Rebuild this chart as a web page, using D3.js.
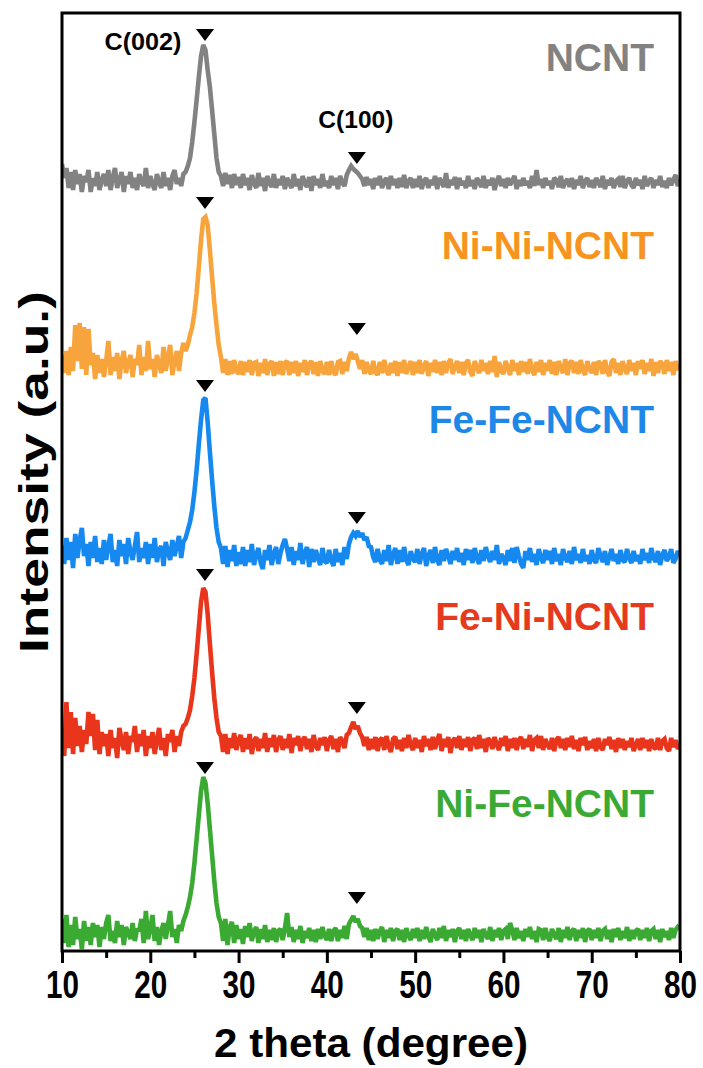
<!DOCTYPE html>
<html>
<head>
<meta charset="utf-8">
<script src="https://cdn.jsdelivr.net/npm/d3@7"></script>
<style>
  body { margin: 0; background: #fff; }
  svg { display: block; }
  text { font-family: "Liberation Sans", Arial, "Helvetica Neue", sans-serif; font-weight: bold; }
</style>
</head>
<body>
<svg id="chart" width="703" height="1068"></svg>
<script>
// 2-theta sampling grid (degrees)
const thetaStart = 10;
const thetaStep = 0.25;

// Intensity (a.u.) per sample, one value per grid step from 10 to 80 degrees
const ncnt = [
  18,4,14,-6,10,-8,12,-2,8,-10,6,0,12,-10,4,-4,10,-8,2,8,
  -4,12,-8,4,14,-6,2,10,-10,6,-2,10,-6,4,-8,8,0,-4,14,-6,
  6,-2,-8,8,0,-6,10,-4,4,-8,6,12,-2,4,-4,8,
  10,16,24,40,
  60,82,105,126,137,132,112,95,72,48,24,10,
  6,-4,9,-2,7,-6,8,-3,
  5,-6,8,-3,4,-8,7,-1,-6,9,-4,4,-9,6,-1,-5,8,-6,3,-3,
  6,-7,4,-1,-6,8,-4,3,-8,6,-1,-5,5,-9,6,-3,3,-6,8,-4,
  1,-6,6,-3,4,-7,6,-1,-4,7,12,16,13,11,9,6,3,-4,5,-3,
  3,-7,4,-3,6,-6,1,4,-7,6,-3,3,-6,4,-5,7,-6,1,4,-6,
  3,-5,6,-7,1,4,-6,2,-3,6,-7,4,0,-5,9,-6,2,-3,5,-7,
  4,-3,1,-6,6,-4,2,-7,4,0,-5,6,-6,2,-3,4,-8,1,6,-4,
  3,-6,4,-3,1,6,-7,2,-4,4,-3,1,-6,6,-4,12,-3,3,-6,4,
  -3,1,-7,4,2,-5,6,-6,0,3,-5,4,-7,2,-3,6,-6,1,4,-5,
  2,-6,4,0,-5,6,-7,2,-3,4,-6,1,3,-5,6,-6,1,4,-3,-6,
  4,-3,2,-7,6,-4,1,4,-6,2,-3,6,-5,1,-6,4,-3,2,7,-4,
  2
];

const niNi = [
  10,-8,14,-10,18,-6,40,4,42,-4,38,-10,36,0,12,-14,10,-8,6,-12,
  4,24,-10,8,-6,12,-14,4,14,-8,2,10,-12,6,0,20,-10,8,-6,24,
  -4,6,-12,10,0,-8,18,-6,8,20,-10,4,14,-6,12,22,
  14,20,30,38,
  52,72,98,125,146,148,140,115,88,62,40,20,
  8,-8,6,-10,4,-9,5,-6,
  -9,4,-10,3,-7,5,-10,2,3,-11,2,-8,6,-10,1,4,-11,3,-9,4,
  -10,2,4,-10,3,-8,4,-11,2,-7,5,-10,1,4,-9,3,-11,4,-6,-9,
  3,-10,4,-7,-10,3,4,-9,3,-6,7,13,6,11,4,-4,5,-9,3,-6,
  -9,4,-7,-10,3,-8,5,-6,-10,2,-8,4,-11,3,-8,5,-9,-2,4,-10,
  3,-8,5,-9,-1,4,-11,2,-7,5,-8,3,-10,4,-8,2,6,-9,-2,4,
  -8,3,-10,2,5,-7,-11,4,-3,-8,5,-6,2,-9,4,-7,9,-12,3,-6,
  -9,4,-3,-10,5,-6,2,-10,4,-7,3,-9,6,-5,-10,3,-7,5,-10,2,
  -6,5,-9,3,-10,4,-3,-8,6,-10,2,4,-8,3,-9,5,-5,-10,4,-4,
  -8,3,-10,4,1,-9,5,-6,-11,3,6,-8,2,-10,4,-4,-9,5,-6,2,
  -10,4,-4,5,-9,2,-6,6,-11,3,-8,4,1,-9,5,-6,3,-10,4,-5,
  1
];

const feFe = [
  6,-12,14,-8,10,-16,18,-6,12,24,-4,8,-14,10,-6,16,-10,4,-12,12,
  -8,6,18,-10,2,-14,12,-4,8,-12,14,0,-8,6,20,-10,4,-6,10,-12,
  8,-6,14,-10,2,6,-14,10,0,-8,12,-4,6,16,-6,10,
  14,22,30,42,
  60,82,108,132,152,154,130,100,72,46,24,10,
  4,-12,6,-15,2,-9,7,-14,
  0,-12,5,-14,2,-10,8,-13,-3,4,-11,-17,2,-8,7,-13,-2,5,-12,-1,
  7,13,3,-9,5,-13,1,-8,9,-12,-1,5,-15,3,-10,2,-6,-13,4,-9,
  -11,2,-8,-14,3,-10,-1,-13,5,-7,8,15,19,16,21,15,19,12,15,6,
  5,-5,-10,3,-8,-12,2,-9,7,-13,-3,4,-12,2,-10,5,-8,-13,1,-7,
  -10,3,-12,-2,4,-14,-4,2,-11,5,-8,-13,2,-9,3,-4,-12,1,-8,4,
  -10,-1,-13,3,-8,2,-11,4,-6,-12,2,-9,5,-4,-10,1,-8,7,-12,-2,
  -6,-13,2,-9,4,-11,5,-4,-12,-16,1,-8,4,-10,-2,-13,3,-6,-11,2,
  -8,1,-12,4,-9,-2,-13,3,-6,-10,1,-12,5,-8,-2,-11,3,-9,-3,-12,
  2,-8,-11,4,-4,-10,1,-13,-5,3,-9,-2,-12,2,-8,-10,3,-6,-11,1,
  -9,-3,-12,3,-8,-1,-11,4,-6,-10,1,-13,-3,2,-9,-5,3,-11,-7,1,
  -3
];

const feNi = [
  4,-14,40,-6,30,-12,24,-4,16,-10,12,-2,30,6,28,-8,22,-12,10,-4,
  8,-14,12,-6,4,-16,14,2,-8,10,-12,6,0,16,-10,8,-4,12,-14,6,
  -6,10,-12,2,14,-8,4,-14,8,0,12,-10,6,-4,10,16,
  18,24,32,46,
  64,88,114,140,154,150,128,98,70,44,24,10,
  6,-10,8,-12,4,-6,9,-8,
  2,7,-10,4,-7,8,-12,1,5,-9,3,-6,9,-10,4,-5,7,-10,2,6,
  -8,3,-6,8,-11,4,-3,6,-9,2,5,-7,3,-10,7,-4,-8,4,-3,5,
  -9,2,6,-7,3,-10,5,1,-6,7,9,15,20,13,16,9,5,-4,5,-8,
  3,-7,5,-9,2,4,-8,6,-4,-10,3,5,-7,2,-9,4,-6,7,-3,-8,
  4,-6,2,-10,6,-4,3,-8,5,-7,2,8,-9,3,-5,5,-11,1,4,-6,
  6,-8,3,-5,5,-9,2,4,-7,7,-6,3,-10,4,1,-7,5,-3,-8,4,
  -4,6,-9,3,-6,4,-8,2,5,-7,3,-5,7,-9,2,4,-6,6,-8,3,
  -3,-7,4,-9,2,5,-6,3,-8,4,-5,6,-7,2,-9,4,-3,5,-8,1,
  -6,3,-9,4,-5,-8,3,-3,5,-7,2,-10,4,-6,3,-8,1,-5,4,-9,
  -3,3,-8,4,-6,2,-9,3,-5,-7,4,-8,1,3,-6,-9,4,-5,2,-7,
  -2
];

const niFe = [
  14,-10,18,-14,8,-12,16,-6,4,-16,12,-8,6,-12,10,-4,8,-14,6,-6,
  10,18,-8,2,-10,12,-4,8,-12,6,0,-6,10,-8,4,2,14,-10,22,-6,
  4,18,-8,6,-12,2,10,-6,8,22,-4,4,-10,8,2,12,
  18,26,36,50,
  70,94,118,142,156,150,130,104,78,52,30,16,
  10,-8,14,-12,6,11,-10,8,
  -6,4,-11,7,-4,10,-8,2,6,-10,4,-6,8,-9,3,-7,5,-9,2,4,
  -7,5,20,-4,6,-9,3,-6,7,-10,2,-5,5,-8,3,-9,4,-6,6,-3,
  -7,4,-8,2,5,-8,3,-5,7,-6,9,13,17,11,14,7,5,-4,5,-7,
  3,-8,4,-6,2,6,-9,3,-5,5,-8,2,4,-7,3,-9,5,-3,-7,4,
  -5,5,-8,3,-6,6,-3,-9,4,-2,-7,5,-5,7,-8,3,-4,4,-9,2,
  5,-6,3,-8,4,-2,-7,5,-5,3,-9,4,-2,-6,6,-8,3,-4,5,-7,
  2,4,-6,10,3,-7,5,-5,2,-8,4,-4,6,-6,2,-9,4,3,-7,5,
  -4,-8,4,-2,-6,5,-9,3,-5,6,-7,2,4,-8,3,-5,5,-9,2,4,
  -7,3,-5,5,-8,2,4,-6,3,-9,4,-4,5,-7,2,-5,6,-8,3,-6,
  2,4,-7,3,-5,5,-8,2,4,-6,3,-9,4,-4,2,-7,5,-5,3,6,
  4
];

const sampleNames = ["NCNT", "Ni-Ni-NCNT", "Fe-Fe-NCNT", "Fe-Ni-NCNT", "Ni-Fe-NCNT"];
const sampleValues = [ncnt, niNi, feFe, feNi, niFe];
// vertical stacking offset of each pattern (a.u.)
const stackOffsets = [769, 586, 399, 209, 18];

// carbon reflections marked on every pattern
const reflectionNames = ["C(002)", "C(100)"];
const reflectionPositions = [26.2, 43.4];
// marker height above each pattern's baseline (a.u.), per sample, per reflection
const markerLevels = [[141, 18], [156, 30], [160, 28], [161, 28], [159, 29]];

const xTickValues = [10, 20, 30, 40, 50, 60, 70, 80];
const xMinorTickValues = [15, 25, 35, 45, 55, 65, 75];

// ---- styling ----
const lineColors = ["#828282", "#F8A43C", "#1589F0", "#E8351B", "#3AAA33"];
const labelColors = ["#828282", "#F7941F", "#1E88E8", "#E63A1E", "#3BAA34"];

const W = 703, H = 1068;
const margin = { left: 62, right: 23, top: 13, bottom: 117 };
const plotW = W - margin.left - margin.right;
const plotH = H - margin.top - margin.bottom;

const svg = d3.select("#chart");

const x = d3.scaleLinear().domain([10, 80]).range([margin.left, margin.left + plotW]);
const y = d3.scaleLinear().domain([0, plotH]).range([margin.top + plotH, margin.top]);

const theta = i => thetaStart + i * thetaStep;

const line = d3.line()
  .x((d, i) => x(theta(i)))
  .curve(d3.curveLinear);

svg.append("clipPath").attr("id", "plot-clip")
  .append("rect")
  .attr("x", margin.left).attr("y", margin.top)
  .attr("width", plotW).attr("height", plotH);

const patterns = svg.append("g").attr("clip-path", "url(#plot-clip)");

sampleValues.forEach((vals, k) => {
  if (vals.length !== 281) throw new Error(sampleNames[k] + " has " + vals.length + " points");
  patterns.append("path")
    .datum(vals)
    .attr("fill", "none")
    .attr("stroke", lineColors[k])
    .attr("stroke-width", 4.6)
    .attr("stroke-linejoin", "miter")
    .attr("stroke-miterlimit", 2)
    .attr("d", line.y(v => y(stackOffsets[k] + v)));
});

// reflection markers (downward triangles)
const tri = "M-9,-12L9,-12L0,0Z";
sampleValues.forEach((vals, k) => {
  reflectionPositions.forEach((pos, j) => {
    svg.append("path")
      .attr("d", tri)
      .attr("fill", "#000")
      .attr("transform", `translate(${x(pos)},${y(stackOffsets[k] + markerLevels[k][j])})`);
  });
});

// reflection names above the top pattern
const reflLabelPos = [{ dx: -62, yv: stackOffsets[0] + 132, w: 77 }, { dx: -1, yv: stackOffsets[0] + 54, w: 75 }];
reflectionNames.forEach((name, j) => {
  svg.append("text")
    .attr("x", x(reflectionPositions[j]) + reflLabelPos[j].dx)
    .attr("y", y(reflLabelPos[j].yv))
    .attr("text-anchor", "middle")
    .attr("font-size", 23)
    .attr("textLength", reflLabelPos[j].w)
    .attr("lengthAdjust", "spacingAndGlyphs")
    .attr("fill", "#000")
    .text(name);
});

// sample labels, right-aligned
const labelBaselines = [71, 259, 433, 630, 817];
sampleNames.forEach((name, k) => {
  svg.append("text")
    .attr("x", 654)
    .attr("y", labelBaselines[k])
    .attr("text-anchor", "end")
    .attr("font-size", 39)
    .attr("fill", labelColors[k])
    .text(name);
});

// x axis
const axisY = margin.top + plotH;
const gx = svg.append("g").attr("transform", `translate(0,${axisY})`)
  .call(d3.axisBottom(x).tickValues(xTickValues).tickSize(12).tickPadding(8).tickFormat(d3.format("d")));
gx.select(".domain").remove();
gx.selectAll(".tick line").attr("stroke", "#000").attr("stroke-width", 3);
gx.selectAll(".tick text")
  .attr("font-size", 38)
  .attr("font-family", "'Liberation Sans', Arial, sans-serif")
  .attr("font-weight", "bold")
  .attr("textLength", 33)
  .attr("lengthAdjust", "spacingAndGlyphs")
  .attr("fill", "#000");

const gxm = svg.append("g").attr("transform", `translate(0,${axisY})`)
  .call(d3.axisBottom(x).tickValues(xMinorTickValues).tickSize(7).tickFormat(""));
gxm.select(".domain").remove();
gxm.selectAll(".tick line").attr("stroke", "#000").attr("stroke-width", 3);

// frame
svg.append("rect")
  .attr("x", margin.left).attr("y", margin.top)
  .attr("width", plotW).attr("height", plotH)
  .attr("fill", "none").attr("stroke", "#000").attr("stroke-width", 3);

// axis titles
svg.append("text")
  .attr("x", margin.left + plotW / 2)
  .attr("y", 1057)
  .attr("text-anchor", "middle")
  .attr("font-size", 41)
  .attr("textLength", 314)
  .attr("lengthAdjust", "spacingAndGlyphs")
  .attr("fill", "#000")
  .text("2 theta (degree)");

svg.append("text")
  .attr("transform", `translate(48,472) rotate(-90)`)
  .attr("text-anchor", "middle")
  .attr("font-size", 41)
  .attr("textLength", 362)
  .attr("lengthAdjust", "spacingAndGlyphs")
  .attr("fill", "#000")
  .text("Intensity (a.u.)");
</script>
</body>
</html>
